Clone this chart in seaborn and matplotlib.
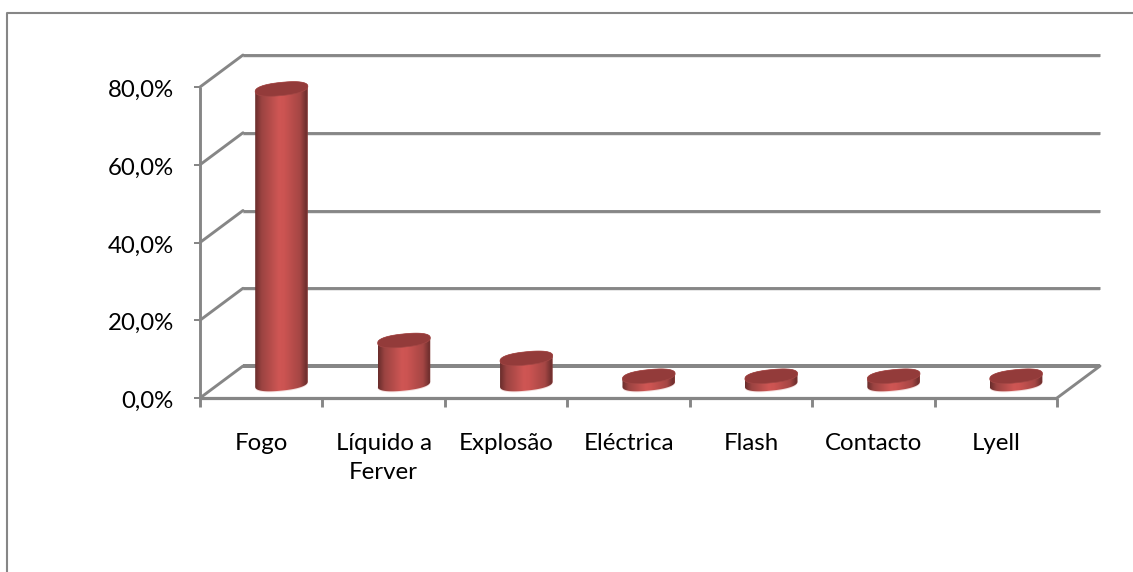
import numpy as np
import matplotlib
matplotlib.use("Agg")
import matplotlib.pyplot as plt
from matplotlib.colors import LinearSegmentedColormap
from matplotlib.lines import Line2D
from matplotlib.patches import Polygon
from matplotlib.transforms import Affine2D
import pandas as pd
import seaborn as sns

categories = ["Fogo", "Líquido a\nFerver", "Explosão", "Eléctrica", "Flash", "Contacto", "Lyell"]
values = [75.9, 11.2, 6.6, 2.0, 2.0, 2.0, 2.0]
y_ticks = [0, 20, 40, 60, 80]
y_labels = ["0,0%", "20,0%", "40,0%", "60,0%", "80,0%"]

GREY = "#868686"
W, H = 1133, 572
sns.set_style("white")
plt.rcParams["font.family"] = ["Lato", "DejaVu Sans"]

fig = plt.figure(figsize=(W / 100, H / 100), dpi=100)
fig.patch.set_facecolor("white")

# Chart area frame: only its top and left edges fall inside the image
fig.add_artist(Line2D([6.5 / W, 6.5 / W, 1.0], [0.0, 1 - 12.5 / H, 1 - 12.5 / H],
                      transform=fig.transFigure, color=GREY, lw=1.5))

# The axes sit on the mid-depth plane, where the cylinders stand
x0, x1, y_base, y_top = 220.3, 1077.3, 384.0, 384.0 - 311
ax = fig.add_axes([x0 / W, 1 - y_base / H, (x1 - x0) / W, (y_base - y_top) / H])
ax.patch.set_visible(False)
for s in ax.spines.values():
    s.set_visible(False)

df = pd.DataFrame({"cat": categories, "val": values})
sns.barplot(data=df, x="cat", y="val", ax=ax, width=0.43, color="#c0504d", saturation=1)
ax.set_xlim(-0.5, 6.5)
ax.set_ylim(0, 80)
ax.set_xlabel("")
ax.set_ylabel("")
ax.set_xticks([])
ax.set_yticks([])


def shifted(dx, dy):
    """Data transform moved by a pixel offset (dy positive is up)."""
    return ax.transData + Affine2D().translate(dx, dy)


front = shifted(-20.3, -14.0)
back = shifted(22.7, 18.0)
back_shadow = shifted(22.7, 15.8)
lw = 2.9


def wire(xs, ys, tr, width=lw, color=GREY):
    ax.plot(xs, ys, transform=tr, color=color, lw=width * 0.72, clip_on=False,
            solid_capstyle="butt", zorder=0.5)


def link(x, y, width=lw):
    # Diagonal running from the front plane to the back plane
    a = front.transform((x, y))
    b = back.transform((x, y))
    ax.plot([a[0], b[0]], [a[1], b[1]], transform=None, color=GREY, lw=width * 0.72,
            clip_on=False, zorder=0.5)


# Back wall, side wall and floor
for v in y_ticks:
    if v:
        wire([-0.5, 6.5], [v, v], back_shadow, 1.5, "#dedede")
    wire([-0.5, 6.5], [v, v], back, 4.0 if v == 0 else lw)
    link(-0.5, v)
    wire([-0.5, -0.5 - 0.05], [v, v], front, 2.0)
link(6.5, 0)
wire([-0.5, -0.5], [0, 80], front)
wire([-0.5, 6.5], [0, 0], front, 3.2)
for i in range(8):
    p = front.transform((i - 0.5, 0))
    ax.plot([p[0], p[0]], [p[1], p[1] - 9], transform=None, color=GREY, lw=lw * 0.72,
            clip_on=False, zorder=0.5, solid_capstyle="butt")

# Shaded cylinders built on the bars that seaborn placed
body_cmap = LinearSegmentedColormap.from_list(
    "body", [(0, "#682c2b"), (0.12, "#9a4341"), (0.45, "#cf5654"), (0.55, "#cc5452"),
             (0.85, "#a54644"), (0.97, "#6f2f2e"), (1, "#8c3d3b")])
gradient = np.linspace(0, 1, 256)[None, :]
px_per_unit = 311 / 80
half_h, tilt = 6.6 / px_per_unit, 2.6 / px_per_unit

for bar in list(ax.patches):
    bx, bw, top = bar.get_x(), bar.get_width(), bar.get_height()
    bar.set_visible(False)
    cx, a = bx + bw / 2, bw / 2
    t = np.linspace(0, 2 * np.pi, 120)

    def rim(level, tt):
        # Slightly squared ellipse leaning upward to the right
        c, s = np.cos(tt), np.sin(tt)
        c = np.sign(c) * np.abs(c) ** 0.85
        s = np.sign(s) * np.abs(s) ** 0.85
        return np.column_stack([cx + a * c, level + half_h * s + tilt * c])

    lower = rim(0, np.linspace(np.pi, 2 * np.pi, 60))
    upper = rim(top, np.linspace(0, np.pi, 60))
    outline = Polygon(np.vstack([lower, upper]), closed=True, transform=ax.transData,
                      fc="none", ec="none", clip_on=False)
    ax.add_patch(outline)
    # Pale shine just under the base
    ax.add_patch(Polygon(rim(-0.25, t), closed=True, fc="#f3dddc", ec="none", clip_on=False, zorder=1))
    im = ax.imshow(gradient, extent=[bx, bx + bw, -3, top + 3], aspect="auto", cmap=body_cmap,
                   interpolation="bilinear", zorder=2)
    im.set_clip_box(fig.bbox)
    im.set_clip_path(outline)
    ax.add_patch(Polygon(rim(top, t), closed=True, fc="#933b3a", ec="#a34745", lw=0.5,
                         clip_on=False, zorder=3))

ax.set_xlim(-0.5, 6.5)
ax.set_ylim(0, 80)

# Value axis and category labels
for v, lab in zip(y_ticks, y_labels):
    p = front.transform((-0.5, v))
    ax.text(174, p[1] - 3.5, lab, transform=None, ha="right", va="center",
            fontsize=17.3, color="black")
for i, lab in enumerate(categories):
    p = front.transform((i, 0))
    ax.text(p[0], H - 433, lab, transform=None, ha="center", va="top", fontsize=17.3,
            color="black", linespacing=1.45)

fig.savefig("out.png", dpi=100)
